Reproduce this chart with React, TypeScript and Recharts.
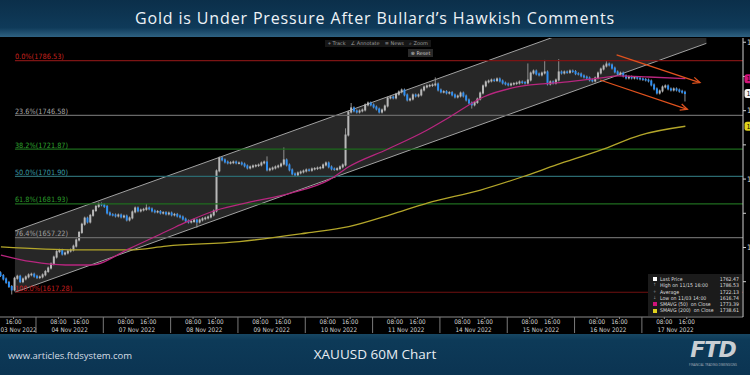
import React from "react";
import {
  ComposedChart,
  Bar,
  Line,
  Area,
  XAxis,
  YAxis,
  ReferenceLine,
  ReferenceDot,
} from "recharts";

// hourly closes, 03 Nov 11:00 -> 17 Nov 15:00
const closes = [
  1629.5, 1627.0, 1624.5, 1621.5, 1619.0, 1627.5, 1629.0, 1625.0, 1627.0, 1628.5, 1630.0, 1630.5, 1629.0,
  1628.0, 1628.5, 1630.0, 1632.5, 1635.0, 1638.0, 1643.0, 1647.0, 1648.0, 1645.2, 1646.0, 1647.4,
  1648.2, 1651.0, 1655.5, 1661.0, 1667.0, 1671.5, 1668.6, 1673.5, 1677.0, 1680.0, 1681.8, 1681.2,
  1680.0, 1675.2, 1674.0, 1673.8, 1673.0, 1673.8, 1672.3, 1673.0, 1670.1, 1671.6, 1676.0, 1678.9,
  1676.7, 1677.4, 1677.9, 1678.9, 1678.2, 1676.7, 1676.0, 1676.3, 1675.2, 1675.5, 1674.5, 1675.2,
  1673.8, 1674.2, 1673.0, 1672.3, 1670.8, 1669.4, 1668.6, 1669.0, 1670.1, 1668.6, 1670.1, 1671.0,
  1671.6, 1672.3, 1673.8, 1676.7, 1706.0, 1715.4, 1714.0, 1712.5, 1711.8, 1712.0, 1712.5, 1711.8,
  1711.8, 1711.0, 1709.6, 1708.1, 1708.9, 1709.6, 1709.9, 1710.3, 1711.8, 1712.5, 1706.7, 1707.4,
  1708.1, 1708.9, 1709.6, 1711.0, 1714.0, 1710.3, 1706.7, 1703.8, 1703.0, 1704.5, 1705.2, 1705.9,
  1706.7, 1706.4, 1707.4, 1707.7, 1708.1, 1708.4, 1710.3, 1711.8, 1708.9, 1707.4, 1707.0, 1707.6,
  1708.9, 1710.3, 1732.2, 1749.0, 1752.0, 1749.8, 1749.0, 1749.8, 1750.5, 1754.2, 1755.6, 1754.2,
  1752.7, 1751.2, 1749.0, 1750.5, 1753.4, 1759.3, 1760.0, 1759.3, 1762.0, 1763.7, 1765.1, 1761.5,
  1757.8, 1758.5, 1761.5, 1760.7, 1761.5, 1765.1, 1767.3, 1768.1, 1768.4, 1768.8, 1769.5, 1765.1,
  1763.7, 1763.9, 1762.9, 1763.2, 1761.5, 1760.0, 1760.7, 1762.9, 1760.7, 1757.8, 1755.6, 1754.2,
  1756.0, 1758.5, 1762.9, 1768.1, 1771.0, 1771.7, 1772.4, 1772.0, 1773.2, 1771.7, 1770.2, 1769.5,
  1768.8, 1769.5, 1769.8, 1770.2, 1771.0, 1770.6, 1770.2, 1772.4, 1777.5, 1779.0, 1776.8, 1776.1,
  1777.5, 1778.3, 1769.5, 1771.0, 1770.2, 1772.4, 1778.3, 1777.5, 1778.3, 1778.0, 1779.0, 1778.6,
  1777.0, 1776.8, 1775.4, 1774.6, 1773.9, 1772.4, 1771.7, 1773.9, 1777.5, 1780.4, 1782.6, 1784.1,
  1783.4, 1781.1, 1778.3, 1776.8, 1777.5, 1775.4, 1773.9, 1774.6, 1773.9, 1774.2, 1773.7, 1773.2,
  1772.8, 1772.4, 1771.7, 1768.8, 1765.9, 1762.9, 1764.4, 1767.3, 1768.1, 1765.9, 1765.1, 1765.9,
  1765.1, 1764.2, 1763.5, 1762.47,
];
const firstOpen = 1631.5;
const highWicks: [number, number][] = [
  [38, 1679.8], [52, 1680.8], [95, 1715.5], [101, 1722.0], [123, 1736.0], [125, 1754.5],
  [155, 1773.2], [188, 1783.4], [194, 1786.0], [199, 1786.53], [216, 1785.0],
];
const lowWicks: [number, number][] = [
  [4, 1616.74], [70, 1665.5], [168, 1752.6], [244, 1757.8],
];

// moving averages: [bar, value]
const sma50: [number, number][] = [
  [0, 1644.5], [11, 1639.6], [23, 1637.2], [32, 1637.2], [46, 1649.4], [60, 1662.8],
  [66, 1668.5], [77, 1677.4], [89, 1683.3], [103, 1689.6], [117, 1699.4], [124, 1709.0],
  [138, 1722.0], [152, 1735.9], [160, 1745.4], [172, 1760.0], [184, 1767.3], [202, 1771.0],
  [214, 1773.9], [220, 1775.4], [231, 1774.6], [244, 1773.39],
];
const sma200: [number, number][] = [
  [0, 1650.4], [27, 1648.2], [46, 1648.2], [59, 1651.0], [85, 1654.3], [109, 1660.6],
  [124, 1665.2], [139, 1674.0], [152, 1682.5], [171, 1692.0], [186, 1701.7], [198, 1710.3],
  [214, 1721.3], [228, 1732.2], [244, 1738.61],
];

const dayNames = [
  "03 Nov 2022", "04 Nov 2022", "07 Nov 2022", "08 Nov 2022", "09 Nov 2022", "10 Nov 2022",
  "11 Nov 2022", "14 Nov 2022", "15 Nov 2022", "16 Nov 2022", "17 Nov 2022",
];
const dayStart = [-11, 13, 37, 61, 85, 109, 133, 157, 181, 205, 229];

const fibPct = ["0.0%", "23.6%", "38.2%", "50.0%", "61.8%", "76.4%", "100.0%"];
const fibPrice = [1786.53, 1746.58, 1721.87, 1701.9, 1681.93, 1657.22, 1617.28];
const fibLineColor = ["#7c1414", "#686868", "#1d6a1d", "#2b6a70", "#1f6c1f", "#686868", "#701010"];
const fibTextColor = ["#c8221e", "#a6a6a6", "#2fa52f", "#3a9ba6", "#2c9c2c", "#a0a0a0", "#c81e1e"];

// regression channel: start/end bar, lower and upper prices
const channelX = [5.5, 252];
const channelLow = [1617.28, 1799.2];
const channelHigh = [1662.1, 1844.0];

const arrows = [
  { from: [220.0, 1790.7], to: [249.7, 1770.5] },
  { from: [214.1, 1772.4], to: [245.2, 1751.0] },
];

const tags = [
  { value: 1773.39, color: "#d1137a" },
  { value: 1762.47, color: "#f2f2f2" },
  { value: 1738.61, color: "#e0d21c" },
];

const yTicks = [1625, 1650, 1675, 1700, 1725, 1750, 1775, 1800];

const legendLabels = [
  "Last Price",
  "High on 11/15 16:00",
  "Average",
  "Low on 11/03 14:00",
  "SMAVG (50)  on Close",
  "SMAVG (200)  on Close",
];
const legendValues = ["1762.47", "1786.53", "1722.13", "1616.74", "1773.39", "1738.61"];

const X_DOMAIN: [number, number] = [0.17, 265.05];
const Y_DOMAIN: [number, number] = [1599.2, 1803.1];
const NARROW = "'Liberation Sans Narrow', 'DejaVu Sans Condensed', 'Liberation Sans', sans-serif";

const highMap = new Map(highWicks);
const lowMap = new Map(lowWicks);
const candles = closes.map((c, i) => {
  const o = i === 0 ? firstOpen : closes[i - 1];
  const hi = Math.max(o, c, highMap.get(i) ?? -Infinity);
  const lo = Math.min(o, c, lowMap.get(i) ?? Infinity);
  return { x: i + 0.5, open: o, close: c, high: hi, low: lo, range: [lo, hi] };
});

const sma50Data = sma50.map(([i, v]) => ({ x: i + 0.5, v }));
const sma200Data = sma200.map(([i, v]) => ({ x: i + 0.5, v }));
const channelData = channelX.map((x, k) => ({ x, band: [channelLow[k], channelHigh[k]] }));

type TickInfo = { kind: "time" | "day" | "sep"; text?: string };
const xTicks: number[] = [];
const xTickInfo = new Map<number, TickInfo>();
const addTick = (u: number, info: TickInfo) => {
  xTicks.push(u);
  xTickInfo.set(u, info);
};
dayStart.forEach((s, k) => {
  if (k > 0) addTick(s, { kind: "sep" });
  if (s + 8 > X_DOMAIN[0]) addTick(s + 8, { kind: "time", text: "08:00" });
  addTick(s + 16, { kind: "time", text: "16:00" });
  addTick(k === 0 ? s + 17.8 : s + 12, { kind: "day", text: dayNames[k] });
});

const Candle = (props: any) => {
  const { x, y, width, height, payload } = props;
  if (x == null || y == null) return null;
  const { open, close, high, low } = payload;
  const top = Math.min(y, y + height);
  const h = Math.abs(height);
  const span = high - low || 1;
  const py = (v: number) => top + ((high - v) / span) * h;
  const up = close >= open;
  const cx = x + width / 2;
  const bTop = py(Math.max(open, close));
  const bBot = py(Math.min(open, close));
  return (
    <g>
      <line x1={cx} x2={cx} y1={top - 1.5} y2={top + h + 1.5} stroke="#8f8f8f" strokeWidth={1} />
      <rect
        x={x}
        y={bTop - 0.5}
        width={width}
        height={Math.max(1.5, bBot - bTop + 1)}
        fill={up ? "#b8b8b8" : "#2f8ff2"}
      />
    </g>
  );
};

const XTick = (props: any) => {
  const { x, y, payload } = props;
  const info = xTickInfo.get(payload.value);
  if (!info) return <g />;
  if (info.kind === "sep") {
    return <line x1={x} x2={x} y1={y} y2={y + 16} stroke="#7a7a7a" strokeWidth={1} />;
  }
  if (info.kind === "time") {
    return (
      <g>
        <line x1={x} x2={x} y1={y} y2={y + 2} stroke="#8a8a8a" />
        <text x={x} y={y + 7} textAnchor="middle" fontSize={6.3} fill="#d6d6d6" fontFamily={NARROW}>
          {info.text}
        </text>
      </g>
    );
  }
  return (
    <text x={x} y={y + 14.5} textAnchor="middle" fontSize={6.3} fill="#d6d6d6" fontFamily={NARROW}>
      {info.text}
    </text>
  );
};

const YTick = (props: any) => {
  const { x, y, payload } = props;
  if (payload.value % 50 !== 0) return <g />;
  return (
    <text x={x} y={y + 2.5} fontSize={7.5} fill="#dcdcdc" fontFamily={NARROW}>
      {payload.value}
    </text>
  );
};

const FibLabel = (props: any) => {
  const { viewBox, text, color } = props;
  if (!viewBox) return null;
  return (
    <text x={viewBox.x} y={viewBox.y - 1.5} fill={color} fontSize={7.3} fontFamily={NARROW}>
      {text}
    </text>
  );
};

const ArrowShape = (props: any) => {
  const { x1, y1, x2, y2 } = props;
  const a = Math.atan2(y2 - y1, x2 - x1);
  const L = 7;
  const W = 3.2;
  const bx = x2 - L * Math.cos(a);
  const by = y2 - L * Math.sin(a);
  const p1 = `${bx - W * Math.sin(a)},${by + W * Math.cos(a)}`;
  const p2 = `${bx + W * Math.sin(a)},${by - W * Math.cos(a)}`;
  return (
    <g>
      <line x1={x1} y1={y1} x2={x2} y2={y2} stroke="#e0521e" strokeWidth={1.3} />
      <polyline points={`${p1} ${x2},${y2} ${p2}`} fill="none" stroke="#e0521e" strokeWidth={1.3} />
    </g>
  );
};

const TagShape = (color: string, value: number) => (props: any) => {
  const { cx, cy } = props;
  if (cx == null || cy == null) return <g />;
  return (
    <g>
      <rect x={cx + 1.5} y={cy - 4.5} width={30} height={9} rx={2.5} fill={color} />
      <text x={cx + 3.5} y={cy + 2.5} fontSize={7} fill="#000" fontFamily={NARROW}>
        {value.toFixed(2)}
      </text>
    </g>
  );
};

const toolItems = ["⌖ Track", "∠ Annotate", "≡ News", "⌕ Zoom"];
// legend markers: square swatch colour or a small glyph
const legendSwatch = ["#ffffff", "", "", "", "#d1137a", "#e0d21c"];
const legendGlyph = ["", "↑", "+", "↓", "", ""];

export default function App() {
  return (
    <div
      style={{
        position: "relative",
        width: 750,
        height: 375,
        background: "#000",
        overflow: "hidden",
        fontFamily: "'Open Sans', sans-serif",
      }}
    >
      <style>{"body{margin:0;background:#000}"}</style>
      <div
        style={{
          position: "absolute",
          left: 0,
          top: 0,
          width: 750,
          height: 37,
          background: "linear-gradient(180deg, #0b2f4a 0%, #0f3a59 75%, #2f6282 100%)",
          color: "#eef3f7",
          fontSize: 16,
          letterSpacing: 0.85,
          textAlign: "center",
          lineHeight: "36px",
        }}
      >
        Gold is Under Pressure After Bullard’s Hawkish Comments
      </div>

      <div style={{ position: "absolute", left: 0, top: 37 }}>
        <ComposedChart
          width={750}
          height={297}
          data={candles}
          margin={{ top: 1, right: 0, bottom: 0, left: 0 }}
        >
          <XAxis
            dataKey="x"
            type="number"
            domain={X_DOMAIN}
            allowDataOverflow
            ticks={xTicks}
            interval={0}
            tick={XTick}
            tickLine={false}
            tickSize={0}
            tickMargin={0}
            height={17}
            axisLine={{ stroke: "#8a8a8a" }}
          />
          <YAxis
            orientation="right"
            width={7}
            domain={Y_DOMAIN}
            allowDataOverflow
            ticks={yTicks}
            interval={0}
            tick={YTick}
            tickSize={3}
            tickMargin={1}
            axisLine={{ stroke: "#d0d0d0" }}
            tickLine={{ stroke: "#d0d0d0" }}
          />
          <Area
            data={channelData}
            dataKey="band"
            type="linear"
            fill="#272727"
            fillOpacity={1}
            stroke="#a2a2a2"
            strokeWidth={1}
            dot={false}
            activeDot={false}
            isAnimationActive={false}
          />
          {fibPrice.map((p, k) => (
            <ReferenceLine
              key={fibPct[k]}
              segment={[
                { x: channelX[0], y: p },
                { x: X_DOMAIN[1], y: p },
              ]}
              stroke={fibLineColor[k]}
              strokeWidth={1.2}
              ifOverflow="visible"
              label={<FibLabel text={`${fibPct[k]}(${p.toFixed(2)})`} color={fibTextColor[k]} />}
            />
          ))}
          <Line
            data={sma200Data}
            dataKey="v"
            type="monotone"
            stroke="#b3a62a"
            strokeWidth={1.3}
            dot={false}
            activeDot={false}
            isAnimationActive={false}
          />
          <Line
            data={sma50Data}
            dataKey="v"
            type="monotone"
            stroke="#b8267f"
            strokeWidth={1.3}
            dot={false}
            activeDot={false}
            isAnimationActive={false}
          />
          <Bar dataKey="range" barSize={2} shape={Candle} isAnimationActive={false} />
          {arrows.map((a, k) => (
            <ReferenceLine
              key={`arrow-${k}`}
              segment={[
                { x: a.from[0], y: a.from[1] },
                { x: a.to[0], y: a.to[1] },
              ]}
              ifOverflow="visible"
              shape={ArrowShape}
            />
          ))}
          {tags.map((t) => (
            <ReferenceDot
              key={t.value}
              x={X_DOMAIN[1]}
              y={t.value}
              r={4}
              ifOverflow="visible"
              shape={TagShape(t.color, t.value)}
            />
          ))}
        </ComposedChart>
      </div>

      <div
        style={{
          position: "absolute",
          left: 325,
          top: 40,
          height: 7,
          display: "flex",
          gap: 5,
          background: "#161616",
          padding: "0 3px",
          fontSize: 5,
          lineHeight: "7px",
          color: "#9c9c9c",
          fontFamily: "'DejaVu Sans', sans-serif",
        }}
      >
        {toolItems.map((t) => (
          <span key={t}>{t}</span>
        ))}
      </div>
      <div
        style={{
          position: "absolute",
          left: 408,
          top: 49,
          width: 25,
          height: 8,
          background: "#2a2a2a",
          fontSize: 5,
          lineHeight: "8px",
          color: "#c8c8c8",
          textAlign: "center",
          fontFamily: "'DejaVu Sans', sans-serif",
        }}
      >
        ⊗ Reset
      </div>

      <div
        style={{
          position: "absolute",
          left: 648,
          top: 274,
          width: 94,
          height: 42,
          background: "#1b1b1b",
          fontFamily: NARROW,
          fontSize: 5.2,
          color: "#dedede",
          padding: "2px 3px 0 5px",
          boxSizing: "border-box",
        }}
      >
        {legendLabels.map((l, k) => (
          <div key={l} style={{ display: "flex", height: 6.3, lineHeight: "6.3px", alignItems: "center" }}>
            <span style={{ width: 7, flex: "0 0 7px", display: "flex", alignItems: "center" }}>
              {legendSwatch[k] ? (
                <span style={{ width: 4, height: 4, background: legendSwatch[k], display: "inline-block" }} />
              ) : (
                <span style={{ fontSize: 4.5, color: "#9a9a9a" }}>{legendGlyph[k]}</span>
              )}
            </span>
            <span style={{ flex: 1, whiteSpace: "pre" }}>{l}</span>
            <span style={{ marginLeft: 3 }}>{legendValues[k]}</span>
          </div>
        ))}
      </div>

      <div
        style={{
          position: "absolute",
          left: 0,
          top: 334,
          width: 750,
          height: 41,
          background: "linear-gradient(180deg, #174763 0%, #0d3a58 15%, #0b3452 100%)",
        }}
      >
        <div
          style={{
            position: "absolute",
            left: 8,
            top: 15,
            fontSize: 9.5,
            color: "#d7dee5",
          }}
        >
          www.articles.ftdsystem.com
        </div>
        <div
          style={{
            position: "absolute",
            left: 0,
            width: 750,
            top: 11,
            textAlign: "center",
            fontSize: 13.5,
            color: "#e8edf2",
          }}
        >
          XAUUSD 60M Chart
        </div>
        <div
          style={{
            position: "absolute",
            left: 686,
            top: 3,
            width: 54,
            textAlign: "center",
            color: "#c9ced3",
          }}
        >
          <div
            style={{
              fontFamily: "'DejaVu Sans', sans-serif",
              fontWeight: 700,
              fontStyle: "italic",
              fontSize: 22,
              lineHeight: "26px",
              letterSpacing: -1,
            }}
          >
            FTD
          </div>
          <div style={{ fontSize: 3, lineHeight: "4px", color: "#aab4bc" }}>
            FINANCIAL TRADING DIMENSIONS
          </div>
        </div>
      </div>
    </div>
  );
}
